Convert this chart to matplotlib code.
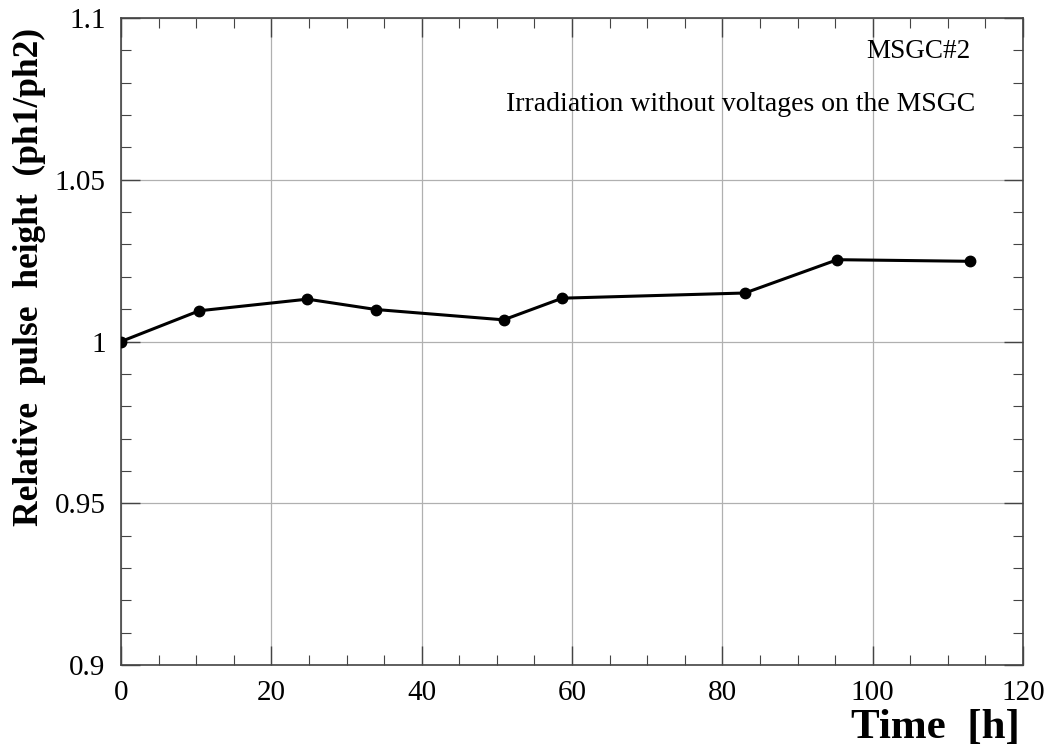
import matplotlib
matplotlib.use("Agg")
import matplotlib.pyplot as plt
from matplotlib.ticker import MultipleLocator

time_h = [0.0, 10.4, 24.8, 33.9, 50.9, 58.7, 83.0, 95.3, 113.0]
rel_ph = [1.0000, 1.0095, 1.0131, 1.0099, 1.0067, 1.0134, 1.0150, 1.0253, 1.0248]

x_label = "Time  [h]"
y_label = "Relative  pulse  height  (ph1/ph2)"
title1 = "MSGC#2"
title2 = "Irradiation without voltages on the MSGC"

plt.rcParams['font.family'] = ['Liberation Serif', 'DejaVu Serif']

fig = plt.figure(figsize=(10.55, 7.53), dpi=100)
ax = fig.add_axes([0.1147, 0.1169, 0.855, 0.8591])

ax.plot(time_h, rel_ph, color='black', lw=2.2, marker='o', ms=7.5, zorder=3)

ax.set_xlim(0, 120)
ax.set_ylim(0.9, 1.1)
ax.xaxis.set_major_locator(MultipleLocator(20))
ax.xaxis.set_minor_locator(MultipleLocator(5))
ax.yaxis.set_major_locator(MultipleLocator(0.05))
ax.yaxis.set_minor_locator(MultipleLocator(0.01))
ax.set_yticks([0.9, 0.95, 1.0, 1.05, 1.1])
ax.set_yticklabels(['0.9', '0.95', '1', '1.05', '1.1'])
ax.grid(True, which='major', color='#b0b0b0', lw=0.9)
ax.set_axisbelow(True)
ax.tick_params(which='both', direction='in', top=True, right=True, labelsize=21, color='#444444')
ax.tick_params(which='major', length=14, width=1)
ax.tick_params(which='minor', length=7, width=0.8)
ax.tick_params(axis='x', pad=11)
ax.tick_params(axis='y', pad=11)
for s in ax.spines.values():
    s.set_color('#444444')
    s.set_linewidth(1.2)

ax.set_ylabel(y_label, fontsize=25.5, fontweight='bold')
ax.yaxis.set_label_coords(-0.083, 0.60)
fig.text(0.967, 0.008, x_label, fontsize=31, fontweight='bold', ha='right', va='bottom')

ax.text(0.942, 0.948, title1, transform=ax.transAxes, ha='right', va='center', fontsize=19.5)
ax.text(0.947, 0.867, title2, transform=ax.transAxes, ha='right', va='center', fontsize=20)

fig.savefig('out.png', dpi=100)
